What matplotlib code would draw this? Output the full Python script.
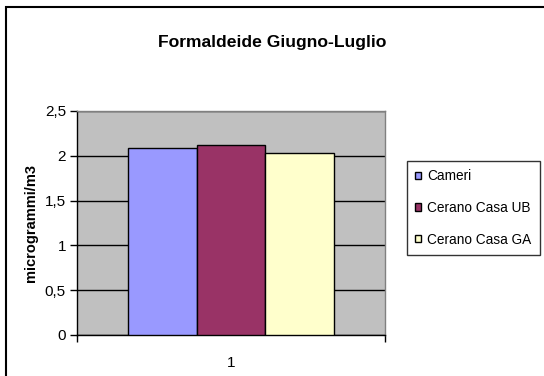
import matplotlib
matplotlib.use("Agg")
import matplotlib.pyplot as plt
from matplotlib.patches import Rectangle
from matplotlib.ticker import FixedLocator, FuncFormatter

plt.rcParams['font.family'] = ['Liberation Sans', 'DejaVu Sans']

title = "Formaldeide Giugno-Luglio"
ylabel = "microgrammi/m3"
categories = ["1"]
series_names = ["Cameri", "Cerano Casa UB", "Cerano Casa GA"]
series_values = [[2.09], [2.12], [2.03]]
series_colors = ["#9999FF", "#993366", "#FFFFCC"]
yticks = [0, 0.5, 1, 1.5, 2, 2.5]

W, H = 544, 376
fig = plt.figure(figsize=(W / 100, H / 100), dpi=100)

# outer chart frame (runs off the right and bottom edges)
fig.patches.append(Rectangle((6 / W, -0.05), 1.1, 1 - 7 / H + 0.05,
                             transform=fig.transFigure, fill=False,
                             edgecolor="black", linewidth=1.5, zorder=0))

ax = fig.add_axes([77 / W, 1 - 335 / H, 308 / W, 224 / H])
ax.set_facecolor("#C0C0C0")

bar_w = 0.2224
n = len(series_names)
for i, (name, vals, col) in enumerate(zip(series_names, series_values, series_colors)):
    xs = [c + (i - (n - 1) / 2) * bar_w for c in range(len(categories))]
    ax.bar(xs, vals, width=bar_w, color=col, edgecolor="black",
           linewidth=1.0, label=name, zorder=3)

ax.set_xlim(-0.5, len(categories) - 0.5)
ax.set_ylim(0, 2.5)
ax.set_yticks(yticks)
ax.yaxis.set_major_formatter(FuncFormatter(lambda v, p: f"{v:g}".replace(".", ",")))
ax.grid(axis="y", color="black", linewidth=1.0, zorder=1)
ax.set_axisbelow(True)

ax.set_xticks(range(len(categories)))
ax.set_xticklabels(categories)
ax.xaxis.set_minor_locator(FixedLocator([-0.5 + k for k in range(len(categories) + 1)]))
ax.tick_params(axis="x", which="major", length=0, pad=15, labelsize=11)
ax.tick_params(axis="x", which="minor", length=5, width=1, direction="out")
ax.tick_params(axis="y", length=5, width=1, direction="out", labelsize=11, pad=3)

for s in ("top", "right"):
    ax.spines[s].set_color("#808080")
    ax.spines[s].set_linewidth(1.0)
for s in ("left", "bottom"):
    ax.spines[s].set_color("black")
    ax.spines[s].set_linewidth(1.0)

ax.set_ylabel(ylabel, fontsize=10.5, fontweight="bold", labelpad=5)

fig.text(272 / W, 1 - 42 / H, title, ha="center", va="center",
         fontsize=12.6, fontweight="bold")

leg = ax.legend(loc="upper left", bbox_to_anchor=(407 / W, 1 - 161 / H),
                bbox_transform=fig.transFigure, frameon=True, fancybox=False,
                fontsize=9.8, handlelength=0.45, handleheight=0.45,
                handletextpad=0.45, labelspacing=1.3, borderpad=0.6,
                borderaxespad=0)
leg.get_frame().set_edgecolor("black")
leg.get_frame().set_linewidth(1.0)
for h in leg.legend_handles:
    h.set_linewidth(1.0)

fig.savefig("out.png", dpi=100)
